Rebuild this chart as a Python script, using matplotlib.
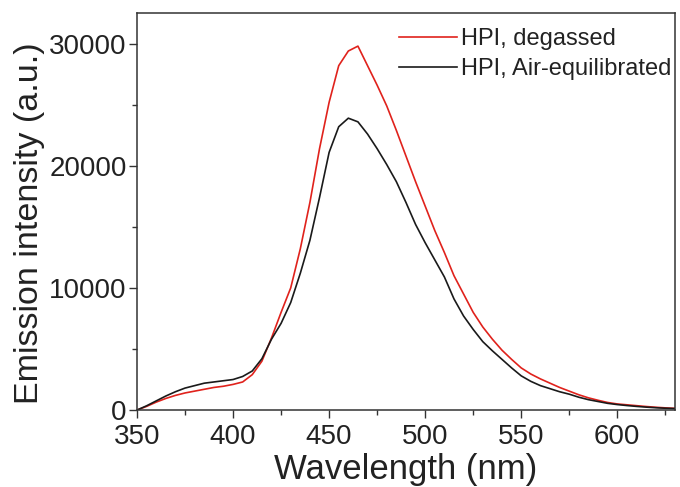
import matplotlib
matplotlib.use("Agg")
import matplotlib.pyplot as plt
from matplotlib.ticker import MultipleLocator

plt.rcParams['font.family'] = ['Liberation Sans', 'DejaVu Sans']

# wavelength grid (nm), read every 5 nm off the reference
wavelength = list(range(350, 635, 5))

# HPI, degassed (red)
degassed = [
    0, 300, 650, 950, 1200, 1400, 1550, 1700, 1850, 1950,
    2100, 2300, 2900, 4000, 5900, 8000, 10000, 13200, 17000, 21400,
    25200, 28200, 29400, 29800, 28200, 26600, 24900, 22900, 20800, 18700,
    16700, 14700, 12900, 11000, 9500, 8000, 6800, 5800, 4900, 4150,
    3450, 2950, 2550, 2200, 1850, 1550, 1250, 1000, 800, 620,
    500, 430, 360, 290, 230, 180, 140,
]

# HPI, air-equilibrated (black)
air_equil = [
    0, 350, 750, 1150, 1500, 1800, 2000, 2200, 2300, 2400,
    2500, 2750, 3200, 4200, 5800, 7100, 8800, 11200, 13900, 17400,
    21100, 23200, 23900, 23600, 22600, 21400, 20100, 18700, 17000, 15200,
    13700, 12300, 10900, 9100, 7700, 6600, 5600, 4850, 4150, 3450,
    2800, 2350, 2000, 1750, 1500, 1300, 1050, 850, 700, 550,
    450, 370, 300, 240, 190, 150, 120,
]

fig = plt.figure(figsize=(6.8, 4.87), dpi=100)
ax = fig.add_axes([0.2015, 0.158, 0.791, 0.815])

ax.plot(wavelength, degassed, color='#e0221c', lw=1.2, label='HPI, degassed')
ax.plot(wavelength, air_equil, color='#1a1a1a', lw=1.2, label='HPI, Air-equilibrated')

ax.set_xlim(350, 630)
ax.set_ylim(0, 32500)
ax.xaxis.set_major_locator(MultipleLocator(50))
ax.xaxis.set_minor_locator(MultipleLocator(25))
ax.yaxis.set_major_locator(MultipleLocator(10000))
ax.yaxis.set_minor_locator(MultipleLocator(5000))

for s in ax.spines.values():
    s.set_linewidth(1.1)
    s.set_color('#333333')
ax.tick_params(which='both', direction='out', top=False, right=False,
               color='#333333', width=1.0)
ax.tick_params(which='major', length=6, labelsize=20, labelcolor='#222222')
ax.tick_params(axis='x', which='major', pad=4)
ax.tick_params(axis='y', which='major', pad=1.5)
ax.tick_params(which='minor', length=3.5)

ax.set_xlabel('Wavelength (nm)', fontsize=25, color='#222222')
ax.set_ylabel('Emission intensity (a.u.)', fontsize=24.5, color='#222222')
ax.xaxis.set_label_coords(0.5, -0.108)
ax.yaxis.set_label_coords(-0.172, 0.47)

leg = ax.legend(loc='upper right', bbox_to_anchor=(0.994, 0.962),
                frameon=False, fontsize=17,
                handlelength=2.45, handletextpad=0.2, labelspacing=0.35,
                borderpad=0.0, borderaxespad=0.0)
for t in leg.get_texts():
    t.set_color('#222222')

fig.savefig('out.png', dpi=100)
